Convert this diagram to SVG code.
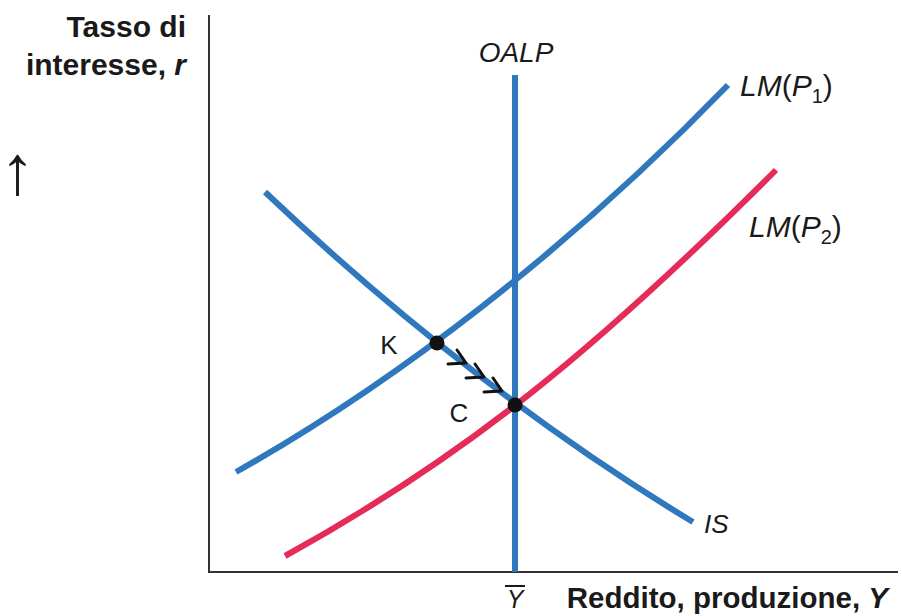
<svg xmlns="http://www.w3.org/2000/svg" width="902" height="616" viewBox="0 0 902 616">
<style>
.ax{stroke:#333;stroke-width:2;fill:none}
.blue{stroke:#2f78be;stroke-width:6;fill:none}
.red{stroke:#e52b57;stroke-width:6;fill:none}
.lbl{font-family:"Liberation Sans",Arial,sans-serif;fill:#1a1a1a}
.b{font-weight:bold}
.i{font-style:italic}
.chev{stroke:#111;stroke-width:3;fill:none;stroke-linecap:round;stroke-linejoin:round}
</style>
<rect width="902" height="616" fill="#fff"/>
<g id="axes">
<path class="ax" d="M209 15V572H898"/>
<text class="lbl b" x="186" y="37" font-size="30" text-anchor="end">Tasso di</text>
<text class="lbl b" x="186" y="75" font-size="30" text-anchor="end">interesse, <tspan class="i">r</tspan></text>
<text class="lbl" x="0" y="194" font-size="70">↑</text>
<text class="lbl b" x="888" y="608" font-size="29.5" text-anchor="end">Reddito, produzione, <tspan class="i">Y</tspan></text>
</g>
<g id="connectors">
<g id="OALP">
<path class="blue" d="M515 75V572"/>
<text class="lbl i" x="516" y="62" font-size="28" text-anchor="middle">OALP</text>
<text class="lbl i" x="515" y="608" font-size="25" text-anchor="middle">Y</text>
<path d="M505 586H525" stroke="#1a1a1a" stroke-width="2"/>
</g>
<g id="LM1">
<path class="blue" d="M236 472C396 382 568 250 728 85"/>
<text class="lbl" x="740" y="96" font-size="30"><tspan class="i">LM</tspan>(<tspan class="i">P</tspan><tspan font-size="20" dy="7">1</tspan><tspan dy="-7">)</tspan></text>
</g>
<g id="LM2">
<path class="red" d="M285 556C465 457 596 350 776 170"/>
<text class="lbl" x="749" y="237" font-size="30"><tspan class="i">LM</tspan>(<tspan class="i">P</tspan><tspan font-size="20" dy="7">2</tspan><tspan dy="-7">)</tspan></text>
</g>
<g id="IS">
<path class="blue" d="M265 192C405 325 553 438 693 522"/>
<text class="lbl i" x="704" y="533" font-size="26">IS</text>
</g>
<g id="arrows">
<path class="chev" d="M448 364L466 363L457 350"/>
<path class="chev" d="M466 378L484 377L475 364"/>
<path class="chev" d="M484 392L502 391L493 378"/>
</g>
</g>
<g id="K">
<circle cx="437" cy="343" r="7.5" fill="#111"/>
<text class="lbl" x="389" y="354" font-size="26" text-anchor="middle">K</text>
</g>
<g id="C">
<circle cx="515" cy="405" r="7.5" fill="#111"/>
<text class="lbl" x="459" y="422" font-size="26" text-anchor="middle">C</text>
</g>
</svg>
